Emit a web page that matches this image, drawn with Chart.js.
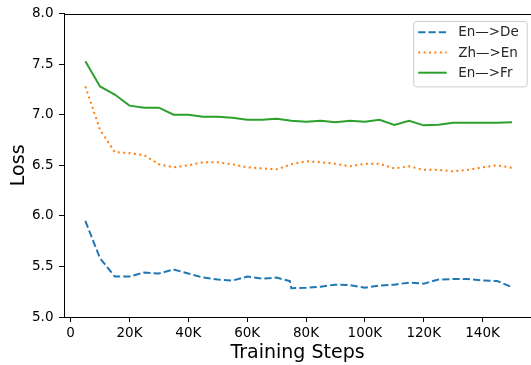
<!DOCTYPE html>
<html>
<head>
<meta charset="utf-8">
<script src="https://cdn.jsdelivr.net/npm/chart.js@4.4.1/dist/chart.umd.min.js"></script>
<style>
  html, body { margin: 0; padding: 0; background: #fff; }
  canvas { display: block; }
</style>
</head>
<body>
<canvas id="lossChart" width="531" height="365"></canvas>
<script>
// training steps (x) for each checkpoint
const steps = [5000, 10000, 15000, 20000, 25000, 30000, 35000, 40000, 45000, 50000,
  55000, 60000, 65000, 70000, 75000, 80000, 85000, 90000, 95000, 100000,
  105000, 110000, 115000, 120000, 125000, 130000, 135000, 140000, 145000, 150000];
// En->De has a sharp drop right at 75K, so it carries one extra checkpoint
const stepsEnDe = [5000, 10000, 15000, 20000, 25000, 30000, 35000, 40000, 45000, 50000,
  55000, 60000, 65000, 70000, 74500, 75000, 80000, 85000, 90000, 95000, 100000,
  105000, 110000, 115000, 120000, 125000, 130000, 135000, 140000, 145000, 150000];

const lossEnDe = [5.95, 5.58, 5.40, 5.40, 5.44, 5.43, 5.47, 5.43, 5.39, 5.37,
  5.36, 5.40, 5.38, 5.39, 5.355, 5.285, 5.29, 5.30, 5.32, 5.315, 5.29,
  5.31, 5.32, 5.34, 5.33, 5.37, 5.375, 5.375, 5.36, 5.355, 5.295];
const lossZhEn = [7.28, 6.85, 6.63, 6.62, 6.60, 6.51, 6.48, 6.50, 6.53, 6.53,
  6.51, 6.48, 6.47, 6.46, 6.51, 6.54, 6.53, 6.515, 6.49, 6.515,
  6.515, 6.47, 6.49, 6.455, 6.455, 6.44, 6.455, 6.48, 6.50, 6.475];
const lossEnFr = [7.53, 7.28, 7.20, 7.09, 7.07, 7.07, 7.00, 7.00, 6.98, 6.98,
  6.97, 6.95, 6.95, 6.96, 6.94, 6.93, 6.94, 6.925, 6.94, 6.93,
  6.95, 6.90, 6.94, 6.895, 6.90, 6.92, 6.92, 6.92, 6.92, 6.925];

const xTicks = [0, 20000, 40000, 60000, 80000, 100000, 120000, 140000];
const yTicks = [5.0, 5.5, 6.0, 6.5, 7.0, 7.5, 8.0];

const FONT = "'DejaVu Sans', sans-serif";

const toPoints = (xs, ys) => ys.map((y, i) => ({ x: xs[i], y }));

// matplotlib-like boxed legend in the upper right corner of the axes
const boxLegend = {
  id: "boxLegend",
  afterDraw(chart) {
    const { ctx, chartArea } = chart;
    const w = 113.5, h = 65.5;
    const left = chartArea.right - 4.3 - w;
    const top = chartArea.top + 7.3;
    ctx.save();
    ctx.beginPath();
    ctx.roundRect(left + 0.5, top + 0.5, w, h, 3);
    ctx.fillStyle = "rgba(255,255,255,0.8)";
    ctx.fill();
    ctx.strokeStyle = "#cccccc";
    ctx.lineWidth = 1;
    ctx.stroke();

    ctx.font = "13.5px " + FONT;
    ctx.textBaseline = "middle";
    chart.data.datasets.forEach((ds, i) => {
      const y = top + 11.4 + i * 20.2;
      ctx.beginPath();
      ctx.setLineDash(ds.borderDash || []);
      ctx.lineCap = "butt";
      ctx.strokeStyle = ds.borderColor;
      ctx.lineWidth = ds.borderWidth;
      ctx.moveTo(left + 5, y);
      ctx.lineTo(left + 33.5, y);
      ctx.stroke();
      ctx.setLineDash([]);
      ctx.fillStyle = "#262626";
      ctx.fillText(ds.label, left + 45, y + 0.5);
    });
    ctx.restore();
  },
};

// top spine (the right one falls outside the picture)
const topSpine = {
  id: "topSpine",
  afterDraw(chart) {
    const { ctx, chartArea } = chart;
    ctx.save();
    ctx.strokeStyle = "#000";
    ctx.lineWidth = 1;
    ctx.beginPath();
    ctx.moveTo(chartArea.left, Math.round(chartArea.top) + 0.5);
    ctx.lineTo(chartArea.right, Math.round(chartArea.top) + 0.5);
    ctx.stroke();
    ctx.restore();
  },
};

new Chart(document.getElementById("lossChart"), {
  type: "line",
  data: {
    datasets: [
      {
        label: "En\u2014>De",
        data: toPoints(stepsEnDe, lossEnDe),
        borderColor: "#1f77b4",
        borderWidth: 2,
        borderDash: [7.2, 3.1],
      },
      {
        label: "Zh\u2014>En",
        data: toPoints(steps, lossZhEn),
        borderColor: "#ff7f0e",
        borderWidth: 2,
        borderDash: [2, 3.4],
      },
      {
        label: "En\u2014>Fr",
        data: toPoints(steps, lossEnFr),
        borderColor: "#2ca02c",
        borderWidth: 2,
      },
    ],
  },
  options: {
    responsive: false,
    animation: false,
    devicePixelRatio: 1,
    layout: { padding: { top: 12, right: 0, left: 0, bottom: 0 } },
    elements: {
      point: { radius: 0 },
      line: { tension: 0, fill: false, borderCapStyle: "butt" },
    },
    plugins: {
      legend: { display: false },
      tooltip: { enabled: false },
    },
    scales: {
      x: {
        type: "linear",
        min: -2250,
        max: 156460,
        afterBuildTicks: (scale) => {
          scale.ticks = xTicks.map((v) => ({ value: v }));
        },
        afterFit: (scale) => {
          scale.height = 48;
        },
        ticks: {
          autoSkip: false,
          maxRotation: 0,
          padding: 3.5,
          color: "#000",
          font: { family: FONT, size: 13.5 },
          callback: (v) => (v === 0 ? "0" : v / 1000 + "K"),
        },
        grid: {
          drawOnChartArea: false,
          drawTicks: true,
          tickLength: 5,
          tickColor: "#000",
          tickWidth: 1,
        },
        border: { display: true, color: "#000", width: 1 },
        title: {
          display: true,
          text: "Training Steps",
          color: "#000",
          font: { family: FONT, size: 19 },
          padding: { top: 0, bottom: 1 },
        },
      },
      y: {
        min: 5,
        max: 8,
        afterBuildTicks: (scale) => {
          scale.ticks = yTicks.map((v) => ({ value: v }));
        },
        afterFit: (scale) => {
          scale.width = 64;
        },
        ticks: {
          padding: 5.5,
          color: "#000",
          font: { family: FONT, size: 13.5 },
          callback: (v) => v.toFixed(1),
        },
        grid: {
          drawOnChartArea: false,
          drawTicks: true,
          tickLength: 5,
          tickColor: "#000",
          tickWidth: 1,
        },
        border: { display: true, color: "#000", width: 1 },
        title: {
          display: true,
          text: "Loss",
          color: "#000",
          font: { family: FONT, size: 19 },
          padding: { top: 8, bottom: 0 },
        },
      },
    },
  },
  plugins: [boxLegend, topSpine],
});
</script>
</body>
</html>
